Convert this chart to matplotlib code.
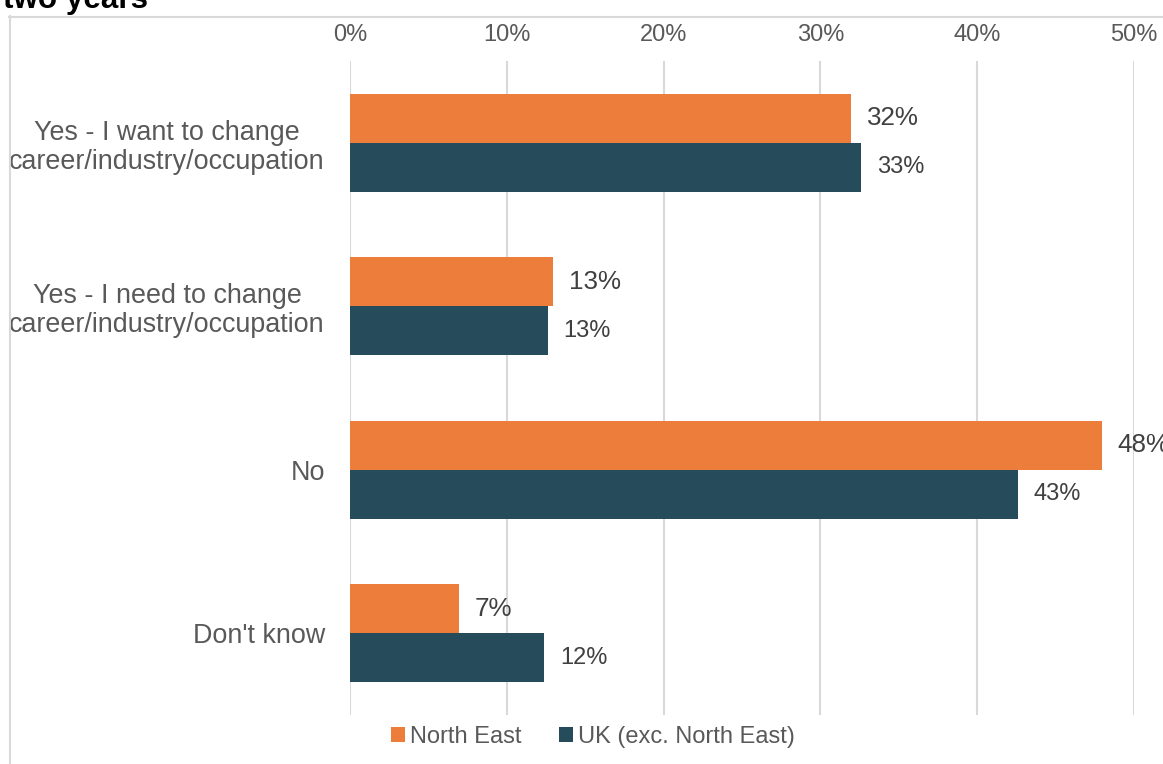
import numpy as np
import matplotlib.pyplot as plt
from matplotlib.lines import Line2D
from matplotlib.patches import Patch

plt.rcParams['font.family'] = ['Liberation Sans', 'DejaVu Sans']

categories = [
    "Yes - I want to change\ncareer/industry/occupation",
    "Yes - I need to change\ncareer/industry/occupation",
    "No",
    "Don't know",
]
north_east = [31.95, 12.95, 47.95, 6.95]
uk_exc_ne = [32.6, 12.6, 42.6, 12.4]
series_names = ["North East", "UK (exc. North East)"]
ticks = [0, 10, 20, 30, 40, 50]

orange = "#ED7D3A"
navy = "#264B5B"
grey_text = "#595959"

W, H = 1163, 764
fig = plt.figure(figsize=(W / 100, H / 100), dpi=100)
ax = fig.add_axes([350 / W, 1 - 715 / H, 784 / W, 654 / H])

y = np.arange(len(categories))
bh = 0.3
ax.barh(y - bh / 2, north_east, height=bh, color=orange)
ax.barh(y + bh / 2, uk_exc_ne, height=bh, color=navy)

for yi, v in zip(y, north_east):
    ax.text(v + 1.0, yi - bh / 2, f"{v:.0f}%", va="center", ha="left",
            fontsize=18.7, color="#404040", clip_on=False)
for yi, v in zip(y, uk_exc_ne):
    ax.text(v + 1.0, yi + bh / 2, f"{v:.0f}%", va="center", ha="left",
            fontsize=17, color="#404040")

ax.set_xlim(0, 50)
ax.set_ylim(len(categories) - 0.5, -0.5)
ax.set_xticks(ticks)
ax.set_xticklabels([f"{t}%" for t in ticks])
ax.xaxis.tick_top()
ax.tick_params(axis="x", length=0, pad=11, labelsize=17, labelcolor=grey_text)
ax.set_yticks(y)
ax.set_yticklabels(categories, multialignment="center", linespacing=1.15)
ax.tick_params(axis="y", length=0, pad=18, labelsize=19.4, labelcolor=grey_text)
ax.grid(axis="x", color="#D9D9D9", linewidth=1.5)
ax.set_axisbelow(True)
for s in ax.spines.values():
    s.set_visible(False)

handles = [Patch(facecolor=orange), Patch(facecolor=navy)]
fig.legend(handles, series_names, loc="center", bbox_to_anchor=(593 / W, 1 - 737 / H),
           ncol=2, frameon=False, fontsize=17, labelcolor=grey_text,
           handlelength=0.6, handleheight=0.6, handletextpad=0.2, columnspacing=1.6)

# outer chart frame (top and left edges visible)
fig.add_artist(Line2D([9.5 / W, 9.5 / W], [1 - 16 / H, 0], color="#D9D9D9", linewidth=1.5,
                      transform=fig.transFigure))
fig.add_artist(Line2D([9 / W, 1], [1 - 16.5 / H, 1 - 16.5 / H], color="#D9D9D9", linewidth=1.5,
                      transform=fig.transFigure))

fig.text(3 / W, 1 - 8 / H, "two years", fontsize=22.6, fontweight="bold",
         color="black", ha="left", va="baseline")

fig.savefig("out.png", dpi=100)
